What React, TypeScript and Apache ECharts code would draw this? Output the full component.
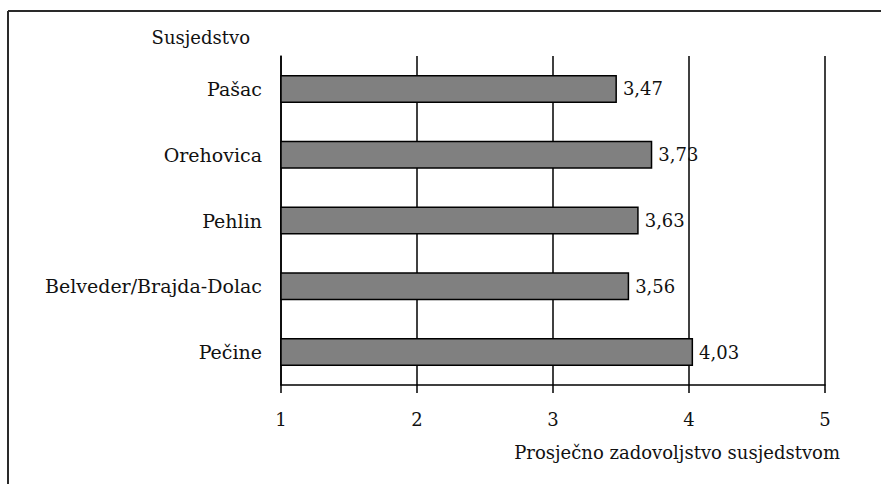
import React, { useEffect, useRef } from "react";
import * as echarts from "echarts";

const categories = ["Pašac", "Orehovica", "Pehlin", "Belveder/Brajda-Dolac", "Pečine"];
const values = [3.47, 3.73, 3.63, 3.56, 4.03];
const xTicks = [1, 2, 3, 4, 5];
const yTitle = "Susjedstvo";
const xTitle = "Prosječno zadovoljstvo susjedstvom";

const FONT = "DejaVu Serif";
const FS = 18;

export default function App() {
  const ref = useRef<HTMLDivElement>(null);
  useEffect(() => {
    if (!ref.current) return;
    const chart = echarts.init(ref.current, undefined, { renderer: "svg" });
    chart.setOption({
      animation: false,
      backgroundColor: "#fff",
      textStyle: { fontFamily: FONT },
      grid: { left: 281, right: 56, top: 56, bottom: 99, containLabel: false },
      xAxis: {
        type: "value",
        min: xTicks[0],
        max: xTicks[xTicks.length - 1],
        interval: 1,
        axisLine: { show: true, lineStyle: { color: "#000", width: 1.5 } },
        axisTick: { show: true, length: 8, lineStyle: { color: "#000", width: 1.5 } },
        axisLabel: { color: "#111", fontFamily: FONT, fontSize: FS, margin: 25 },
        splitLine: { show: true, lineStyle: { color: "#000", width: 1.5 } },
      },
      yAxis: {
        type: "category",
        data: categories,
        inverse: true,
        axisLine: { show: true, lineStyle: { color: "#000", width: 1.5 } },
        axisTick: { show: false },
        axisLabel: { color: "#111", fontFamily: FONT, fontSize: 19, margin: 19 },
        splitLine: { show: false },
      },
      series: [
        {
          type: "bar",
          data: values,
          barWidth: 28,
          itemStyle: { color: "#808080", borderColor: "#000", borderWidth: 1.5 },
          label: {
            show: true,
            position: "right",
            distance: 6,
            color: "#111",
            fontFamily: FONT,
            fontSize: FS,
            formatter: (p: any) => Number(p.value).toFixed(2).replace(".", ","),
          },
        },
      ],
      graphic: [
        {
          type: "line",
          shape: { x1: 8, y1: 11, x2: 881, y2: 11 },
          style: { stroke: "#2a2a2a", lineWidth: 2 },
        },
        {
          type: "line",
          shape: { x1: 8, y1: 11, x2: 8, y2: 484 },
          style: { stroke: "#2a2a2a", lineWidth: 2 },
        },
        {
          type: "text",
          x: 250,
          y: 37,
          style: {
            text: yTitle,
            fill: "#111",
            fontFamily: FONT,
            fontSize: FS,
            align: "right",
            verticalAlign: "middle",
          },
        },
        {
          type: "text",
          x: 840,
          y: 452,
          style: {
            text: xTitle,
            fill: "#111",
            fontFamily: FONT,
            fontSize: FS,
            align: "right",
            verticalAlign: "middle",
          },
        },
      ],
    });
    return () => chart.dispose();
  }, []);
  return (
    <div
      ref={ref}
      style={{ position: "absolute", left: 0, top: 0, width: 881, height: 484 }}
    />
  );
}
